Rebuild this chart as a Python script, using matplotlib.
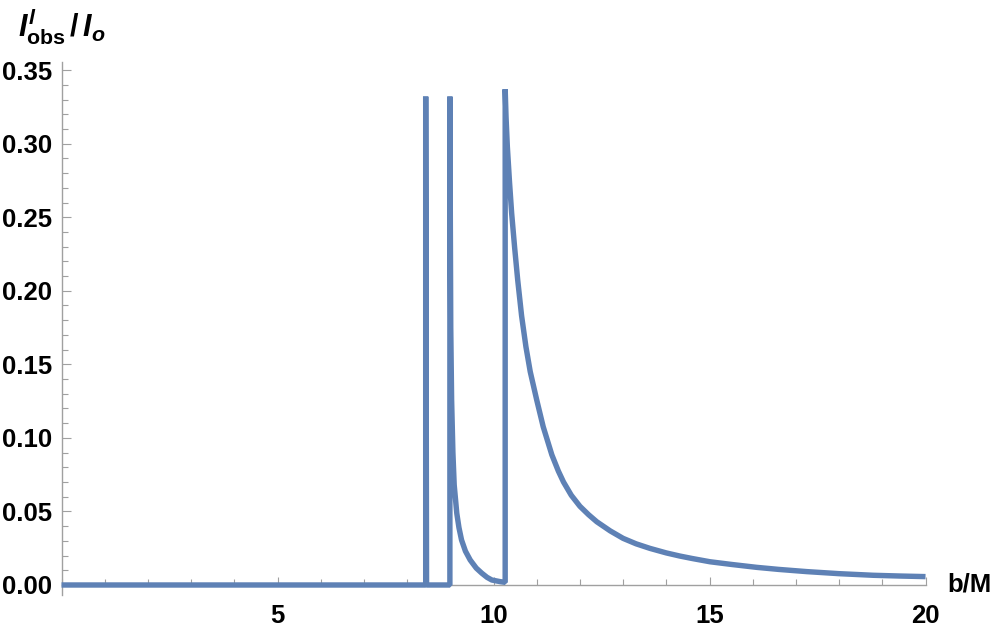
import matplotlib
matplotlib.use("Agg")
import matplotlib.pyplot as plt
from matplotlib.ticker import MultipleLocator, FixedLocator

b_flat = [0.0, 8.43]
i_flat = [0.0, 0.0]

b_spike1 = [8.43, 8.43, 8.45, 8.99]
i_spike1 = [0.0, 0.332, 0.0, 0.0]

b_spike2 = [8.99, 8.995, 9.00, 9.01, 9.03, 9.06, 9.09, 9.15, 9.20, 9.26, 9.35, 9.46,
            9.60, 9.73, 9.85, 9.96, 10.15, 10.27]
i_spike2 = [0.332, 0.29, 0.25, 0.175, 0.126, 0.09, 0.068, 0.0487, 0.039, 0.0306, 0.023, 0.017,
            0.0115, 0.008, 0.0052, 0.0034, 0.0023, 0.0018]

b_tail = [10.27, 10.27, 10.29, 10.32, 10.37, 10.42, 10.49, 10.56, 10.65, 10.75, 10.85, 11.0,
          11.15, 11.35, 11.5, 11.62, 11.8, 12.0, 12.2, 12.39, 12.7, 13.0, 13.3, 13.62, 14.0,
          14.31, 14.6, 15.01, 15.5, 16.09, 16.6, 17.25, 18.0, 18.79, 19.4, 20.0]
i_tail = [0.0018, 0.337, 0.318, 0.298, 0.274, 0.2527, 0.229, 0.2073, 0.183, 0.162, 0.145, 0.1258,
          0.1076, 0.0885, 0.0775, 0.0700, 0.0610, 0.0535, 0.0478, 0.043, 0.0368, 0.0317, 0.0280,
          0.0249, 0.0218, 0.0197, 0.0180, 0.0158, 0.0140, 0.0120, 0.0106, 0.0091, 0.0077, 0.0066,
          0.0061, 0.0057]

x_major = [5, 10, 15, 20]
y_major = [0.00, 0.05, 0.10, 0.15, 0.20, 0.25, 0.30, 0.35]

LINE = "#5E81B5"
AXIS = "#A0A0A0"

plt.rcParams["font.family"] = ["Liberation Sans", "DejaVu Sans"]
plt.rcParams["font.weight"] = "bold"
plt.rcParams["mathtext.fontset"] = "custom"
plt.rcParams["mathtext.rm"] = "Liberation Sans:bold"
plt.rcParams["mathtext.bf"] = "Liberation Sans:bold"
plt.rcParams["mathtext.it"] = "Liberation Sans:bold:italic"

fig = plt.figure(figsize=(9.97, 6.28), dpi=100)
ax = fig.add_axes([0.0617, 0.05255, 0.8666, 0.8487])

b = b_flat + b_spike1 + b_spike2 + b_tail
intensity = i_flat + i_spike1 + i_spike2 + i_tail
ax.plot(b, intensity, color=LINE, linewidth=3.9, solid_joinstyle="bevel",
        solid_capstyle="butt", zorder=5, clip_on=False)

ax.set_xlim(0, 20)
ax.set_ylim(-0.0068, 0.3555)

for side in ("top", "right"):
    ax.spines[side].set_visible(False)
ax.spines["bottom"].set_position(("data", 0))
for side in ("left", "bottom"):
    ax.spines[side].set_color(AXIS)
    ax.spines[side].set_linewidth(1.0)

ax.xaxis.set_major_locator(FixedLocator(x_major))
ax.xaxis.set_minor_locator(MultipleLocator(1))
ax.yaxis.set_major_locator(FixedLocator(y_major))
ax.yaxis.set_minor_locator(MultipleLocator(0.01))
ax.set_xticklabels([str(v) for v in x_major])
ax.set_yticklabels([f"{v:.2f}" for v in y_major])

ax.tick_params(axis="both", which="both", direction="in", color=AXIS, width=0.8,
               labelsize=18.5, labelcolor="black")
ax.tick_params(axis="x", which="major", length=6, pad=14)
ax.tick_params(axis="x", which="minor", length=4)
ax.tick_params(axis="y", which="major", length=6.5, pad=6.5)
ax.tick_params(axis="y", which="minor", length=4)
for lab in ax.get_xticklabels() + ax.get_yticklabels():
    lab.set_fontweight("bold")

ax.annotate("b/M", xy=(1, 0), xycoords=("axes fraction", "data"),
            xytext=(16, 0), textcoords="offset points",
            ha="left", va="center", fontsize=18.5, fontweight="bold")
fig.text(18 / 997, 1 - 27 / 628, r"$I^{l}_{\mathrm{obs}}\,/\,I_{o}$",
         ha="left", va="center", fontsize=22)

fig.savefig("out.png", dpi=100)
